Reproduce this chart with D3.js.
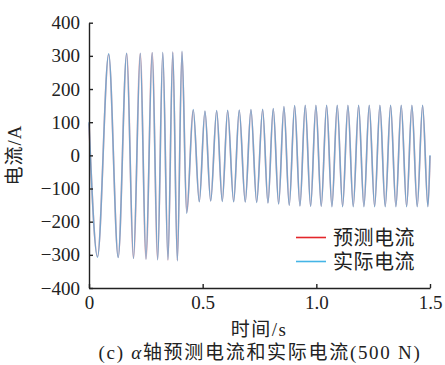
<!DOCTYPE html>
<html>
<head>
<meta charset="utf-8">
<script src="https://cdn.jsdelivr.net/npm/d3@7"></script>
<style>
  body { margin: 0; background: #fff; }
  text { font-family: "Liberation Serif", "Noto Sans CJK SC", serif; fill: #222; }
</style>
</head>
<body>
<svg id="chart" width="445" height="365"></svg>
<script>
// extrema of the current waveform (time in s)
const times = [0, 0.0374, 0.0866, 0.1284, 0.1658, 0.1957, 0.2256, 0.2507, 0.2779, 0.3021,
  0.3245, 0.3474, 0.3685, 0.3887, 0.409, 0.4296, 0.4587, 0.4851, 0.5101, 0.5352,
  0.5616, 0.5862, 0.6099, 0.6363, 0.6609, 0.6873, 0.7124, 0.7375, 0.7639, 0.7872,
  0.8105, 0.8342, 0.8575, 0.8808, 0.9046, 0.9279, 0.9512, 0.9749, 0.9982, 1.0215,
  1.0453, 1.0686, 1.0919, 1.1156, 1.139, 1.1623, 1.186, 1.2093, 1.2327, 1.2564,
  1.2797, 1.303, 1.3267, 1.35, 1.3734, 1.3971, 1.4204, 1.4437, 1.4675, 1.4908, 1.5];

const actual = [100, -307, 306, -308, 308, -311, 308, -313, 310, -315,
  311, -315, 312, -318, 314, -175, 138, -140, 134, -138,
  135, -139, 136, -140, 137, -141, 138, -142, 139, -144,
  141, -147, 147, -151, 150, -153, 151, -154, 151, -154,
  151, -155, 151, -155, 151, -155, 151, -155, 151, -155,
  151, -155, 151, -155, 151, -155, 151, -155, 151, -155, 0];

const predicted = [96, -305, 304, -307, 307, -310, 307, -312, 309, -314,
  310, -316, 311, -317, 312, -172, 136, -139, 133, -137,
  134, -138, 135, -139, 136, -140, 137, -141, 138, -143,
  140, -146, 146, -150, 149, -152, 150, -153, 150, -153,
  150, -154, 150, -154, 150, -154, 150, -154, 150, -154,
  150, -154, 150, -154, 150, -154, 150, -154, 150, -154, -2];

const xTicks = [0, 0.5, 1.0, 1.5];
const yTicks = [-400, -300, -200, -100, 0, 100, 200, 300, 400];
const seriesNames = ["预测电流", "实际电流"];
const seriesColors = ["#e3262b", "#45b5e6"];

const svg = d3.select("#chart");
const x = d3.scaleLinear().domain([0, 1.5]).range([89, 430]);
const y = d3.scaleLinear().domain([-400, 400]).range([288, 22.7]);

const line = d3.line()
  .x((d, i) => x(times[i]))
  .y(d => y(d))
  .curve(d3.curveMonotoneX);

svg.append("path")
  .datum(predicted)
  .attr("fill", "none")
  .attr("stroke", seriesColors[0])
  .attr("stroke-width", 1.7)
  .attr("stroke-opacity", 0.35)
  .attr("d", line);

svg.append("path")
  .datum(actual)
  .attr("fill", "none")
  .attr("stroke", "#5a9fd0")
  .attr("stroke-width", 1.5)
  .attr("stroke-opacity", 0.8)
  .attr("d", line);

// axes
const yAxis = svg.append("g")
  .attr("transform", `translate(${x(0)},0)`)
  .call(d3.axisLeft(y).tickValues(yTicks).tickSize(-4).tickSizeOuter(0).tickPadding(9)
    .tickFormat(d => d < 0 ? "\u2212" + Math.abs(d) : d));

const xAxis = svg.append("g")
  .attr("transform", `translate(0,${y(-400)})`)
  .call(d3.axisBottom(x).tickValues(xTicks).tickSize(-4).tickSizeOuter(0).tickPadding(8)
    .tickFormat(d => d === 0 ? "0" : d3.format(".1f")(d)));

[yAxis, xAxis].forEach(g => {
  g.select(".domain").attr("stroke", "#222").attr("stroke-width", 1.4);
  g.selectAll(".tick line").attr("stroke", "#222").attr("stroke-width", 1.4);
  g.selectAll(".tick text")
    .attr("fill", "#222")
    .style("font-family", '"Liberation Serif", serif')
    .style("font-size", "19px");
});

// axis titles
svg.append("text")
  .attr("transform", "translate(21,155) rotate(-90)")
  .attr("text-anchor", "middle")
  .style("font-size", "19px")
  .style("letter-spacing", "1px")
  .text("电流/A");

svg.append("text")
  .attr("x", 259)
  .attr("y", 336)
  .attr("text-anchor", "middle")
  .style("font-size", "19px")
  .style("letter-spacing", "1.5px")
  .text("时间/s");

// caption
const cap = svg.append("text")
  .attr("x", 260)
  .attr("y", 359)
  .attr("text-anchor", "middle")
  .style("font-size", "19px")
  .style("letter-spacing", "1.7px");
cap.append("tspan").text("(c)  ");
cap.append("tspan").style("font-style", "italic").text("α");
cap.append("tspan").text("轴预测电流和实际电流(500 N)");

// legend
const legend = svg.append("g");
seriesNames.forEach((name, i) => {
  const ly = 237.5 + i * 24;
  legend.append("line")
    .attr("x1", 296).attr("x2", 326)
    .attr("y1", ly).attr("y2", ly)
    .attr("stroke", seriesColors[i])
    .attr("stroke-width", 1.6);
  legend.append("text")
    .attr("x", 333)
    .attr("y", ly)
    .attr("dy", "0.36em")
    .style("font-size", "20px")
    .style("letter-spacing", "0.5px")
    .text(name);
});
</script>
</body>
</html>
